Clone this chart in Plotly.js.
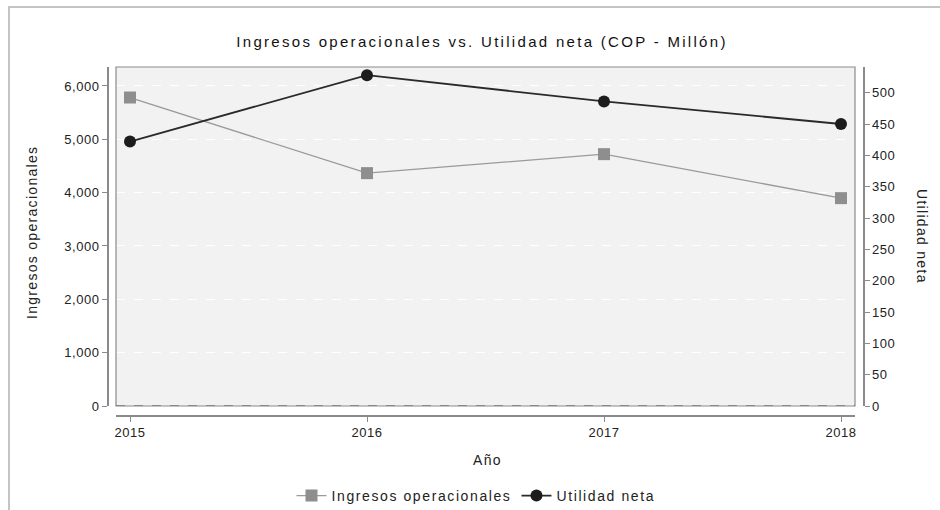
<!DOCTYPE html>
<html>
<head>
<meta charset="utf-8">
<script src="https://cdn.plot.ly/plotly-3.0.1.min.js"></script>
<style>
  html, body { margin: 0; padding: 0; background: #fff; }
  #wrap { position: relative; width: 940px; height: 510px; }
  #chart { position: absolute; left: 0; top: 0; width: 940px; height: 510px; }
  #frame { position: absolute; left: 8px; top: 6px; right: 0; bottom: 0;
           border-top: 2px solid #c4c4c4; border-left: 2px solid #c4c4c4; pointer-events: none; }
  .gtitle { letter-spacing: 2.3px; }
  .xtick text, .ytick text, .y2tick text { letter-spacing: 0.5px; }
  .legendtext { letter-spacing: 1.6px; }
  .annotation-text { letter-spacing: 1.3px; }
</style>
</head>
<body>
<div id="wrap"><div id="chart"></div><div id="frame"></div></div>
<script>
const years = [2015, 2016, 2017, 2018];
const ingresos = [5784, 4366, 4722, 3897];
const utilidad = [422, 528, 486, 450];
const yearTicks = ['2015', '2016', '2017', '2018'];

const font = 'Liberation Sans, Arial, sans-serif';

const traces = [
  {
    x: years, y: ingresos, name: 'Ingresos operacionales', type: 'scatter', mode: 'lines+markers',
    line: {color: '#9a9a9a', width: 1.3},
    marker: {symbol: 'square', size: 12, color: '#8e8e8e'},
    yaxis: 'y'
  },
  {
    x: years, y: utilidad, name: 'Utilidad neta', type: 'scatter', mode: 'lines+markers',
    line: {color: '#2a2a2a', width: 1.8},
    marker: {symbol: 'circle', size: 12, color: '#1c1c1c'},
    yaxis: 'y2'
  }
];

const L = 107, R = 863, T = 67, B = 415;
const PW = R - L, PH = B - T;
const px = v => (v - L) / PW;
const py = v => (B - v) / PH;

const layout = {
  width: 940, height: 510,
  margin: {l: L, r: 940 - R, t: T, b: 510 - B, pad: 0, autoexpand: false},
  paper_bgcolor: 'rgba(0,0,0,0)',
  plot_bgcolor: '#f2f2f2',
  font: {family: font, size: 13, color: '#222'},
  title: {
    text: 'Ingresos operacionales vs. Utilidad neta (COP - Millón)',
    font: {family: font, size: 15, color: '#111'},
    xref: 'container', yref: 'container',
    x: 482 / 940, xanchor: 'center', y: 1 - 42 / 510, yanchor: 'middle',
    automargin: false
  },
  showlegend: true,
  legend: {
    orientation: 'h', x: px(476), xanchor: 'center', y: py(496), yanchor: 'middle',
    itemwidth: 30,
    font: {family: font, size: 14, color: '#222'}, bgcolor: 'rgba(0,0,0,0)'
  },
  xaxis: {
    domain: [px(116), px(855)],
    range: [2015 - 14 / 237, 2018 + 14 / 237],
    tickvals: years, ticktext: yearTicks,
    anchor: 'free', position: 0,
    showgrid: false, zeroline: false,
    showline: true, linecolor: '#8a8a8a', linewidth: 1.5,
    ticks: 'outside', ticklen: 5, tickcolor: '#8a8a8a', tickwidth: 1,
    tickfont: {family: font, size: 13, color: '#222'},
    automargin: false
  },
  yaxis: {
    domain: [py(406), 1],
    range: [0, 6356],
    dtick: 1000, tick0: 0, tickformat: ',',
    anchor: 'free', position: 0,
    showgrid: true, gridcolor: '#ffffff', griddash: 'dash', gridwidth: 1,
    zeroline: false,
    showline: true, linecolor: '#8a8a8a', linewidth: 1.5,
    ticks: 'outside', ticklen: 5, tickcolor: '#8a8a8a',
    tickfont: {family: font, size: 13, color: '#222'},
    automargin: false
  },
  yaxis2: {
    domain: [py(406), 1],
    range: [0, 541],
    dtick: 50, tick0: 0,
    overlaying: 'y', side: 'right', anchor: 'free', position: 1,
    showgrid: false, zeroline: false,
    showline: true, linecolor: '#8a8a8a', linewidth: 1.5,
    ticks: 'outside', ticklen: 5, tickcolor: '#8a8a8a',
    tickfont: {family: font, size: 13, color: '#222'},
    automargin: false
  },
  shapes: [
    {type: 'rect', xref: 'x domain', yref: 'y domain', x0: 0, x1: 1, y0: 0, y1: 1,
     line: {color: '#8a8a8a', width: 1.2}, layer: 'above'},
    {type: 'line', xref: 'x domain', yref: 'y', x0: 0, x1: 1, y0: 0, y1: 0,
     line: {color: '#555555', width: 1.2, dash: 'dash'}, layer: 'above'}
  ],
  annotations: [
    {text: 'Ingresos operacionales', xref: 'paper', yref: 'paper', x: px(32), y: py(233),
     xanchor: 'center', yanchor: 'middle', textangle: -90, showarrow: false,
     font: {family: font, size: 14, color: '#222'}},
    {text: 'Utilidad neta', xref: 'paper', yref: 'paper', x: px(922), y: py(236),
     xanchor: 'center', yanchor: 'middle', textangle: 90, showarrow: false,
     font: {family: font, size: 14, color: '#222'}},
    {text: 'Año', xref: 'paper', yref: 'paper', x: px(487), y: py(460),
     xanchor: 'center', yanchor: 'middle', showarrow: false,
     font: {family: font, size: 14, color: '#222'}}
  ]
};

Plotly.newPlot('chart', traces, layout, {staticPlot: true, displayModeBar: false});
</script>
</body>
</html>
